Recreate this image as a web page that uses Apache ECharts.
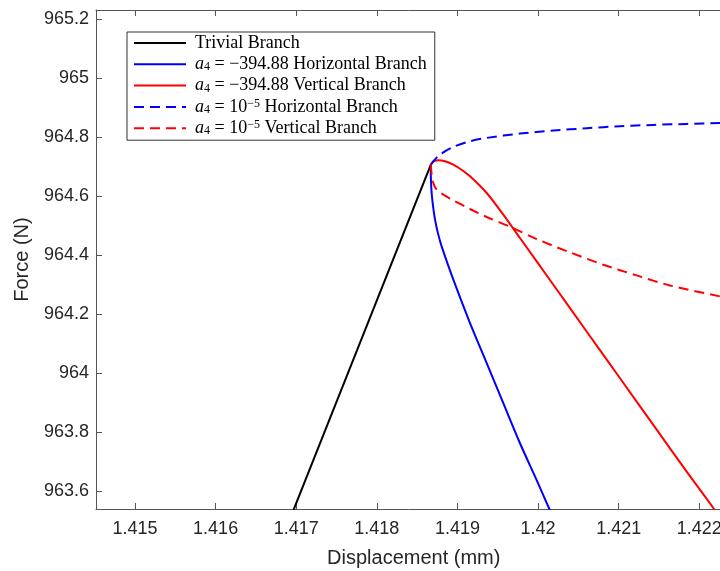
<!DOCTYPE html>
<html>
<head>
<meta charset="utf-8">
<script src="https://cdn.jsdelivr.net/npm/echarts@6/dist/echarts.min.js"></script>
<style>html,body{margin:0;padding:0;background:#fff;overflow:hidden}#c{width:720px;height:571px}</style>
</head>
<body>
<div id="c"></div>
<script>
// ---- data (displacement mm, force N) ----
const trivialBranch = [[1.41690, 963.49], [1.41867, 964.707]];
const hBranchA = [[1.41867, 964.707], [1.418668, 964.696], [1.418672, 964.650], [1.418680, 964.611], [1.418698, 964.565], [1.418722, 964.521], [1.418758, 964.475], [1.418804, 964.430], [1.418949, 964.317], [1.419156, 964.170], [1.419363, 964.034], [1.419569, 963.898], [1.419776, 963.762], [1.419983, 963.637], [1.420140, 963.539], [1.42020, 963.50]];
const vBranchA = [[1.41867, 964.707], [1.418692, 964.715], [1.418722, 964.7200], [1.418763, 964.7222], [1.418846, 964.7187], [1.418949, 964.7074], [1.419050, 964.690], [1.419156, 964.6678], [1.419363, 964.6112], [1.419569, 964.5376], [1.419776, 964.4583], [1.420190, 964.2998], [1.420603, 964.1412], [1.421017, 963.9827], [1.421430, 963.8242], [1.421844, 963.6657], [1.422183, 963.539], [1.42222, 963.52]];
const hBranchB = [[1.41867, 964.707], [1.418701, 964.7187], [1.418784, 964.7414], [1.418949, 964.7675], [1.419156, 964.7867], [1.419363, 964.7980], [1.419776, 964.8127], [1.420190, 964.8229], [1.420603, 964.8309], [1.421017, 964.8377], [1.421430, 964.8422], [1.421844, 964.8456], [1.422257, 964.8490], [1.42250, 964.851]];
const vBranchB = [[1.41867, 964.707], [1.418678, 964.680], [1.418693, 964.6508], [1.418742, 964.6225], [1.418846, 964.6021], [1.418949, 964.5863], [1.419156, 964.5569], [1.419363, 964.5297], [1.419660, 964.4957], [1.419983, 964.4549], [1.420396, 964.4097], [1.420810, 964.3677], [1.421223, 964.3315], [1.421637, 964.2975], [1.422257, 964.2602], [1.42250, 964.247]];
const seriesNames = ['Trivial Branch', 'a4 = -394.88 Horizontal Branch', 'a4 = -394.88 Vertical Branch', 'a4 = 1e-5 Horizontal Branch', 'a4 = 1e-5 Vertical Branch'];
const legendLabels = [
  'Trivial Branch',
  '{it|a}{sub|4} = −394.88 Horizontal Branch',
  '{it|a}{sub|4} = −394.88 Vertical Branch',
  '{it|a}{sub|4} = 10{sup|−5} Horizontal Branch',
  '{it|a}{sub|4} = 10{sup|−5} Vertical Branch'
];
const xTicks = [1.415, 1.416, 1.417, 1.418, 1.419, 1.420, 1.421, 1.422];
const xTickLabels = ['1.415', '1.416', '1.417', '1.418', '1.419', '1.42', '1.421', '1.422'];
const yTicks = [963.6, 963.8, 964.0, 964.2, 964.4, 964.6, 964.8, 965.0, 965.2];
const yTickLabels = ['963.6', '963.8', '964', '964.2', '964.4', '964.6', '964.8', '965', '965.2'];
const xRange = [1.414516, 1.4224];
const yRange = [963.539, 965.232];

function labelFor(ticks, labels) {
  return function (v) {
    for (let i = 0; i < ticks.length; i++) if (Math.abs(ticks[i] - v) < 1e-7) return labels[i];
    return '';
  };
}

const axisColor = '#555';
const tickFont = { color: '#262626', fontSize: 18, fontFamily: 'Liberation Sans, Arial, sans-serif' };

const chart = echarts.init(document.getElementById('c'), null, { renderer: 'canvas' });
const lineCommon = { type: 'line', symbol: 'none', showSymbol: false, animation: false, clip: true };
chart.setOption({
  animation: false,
  backgroundColor: '#fff',
  grid: { left: 96, top: 10, right: -11.5, bottom: 62, containLabel: false, outerBoundsMode: 'none' },
  xAxis: [{
    type: 'value', min: xRange[0], max: xRange[1], position: 'bottom',
    name: 'Displacement (mm)', nameLocation: 'middle', nameGap: 39,
    nameTextStyle: { color: '#262626', fontSize: 20, fontFamily: 'Liberation Sans, Arial, sans-serif' },
    axisLine: { show: true, onZero: false, lineStyle: { color: axisColor, width: 1 } },
    axisTick: { show: true, inside: true, length: 6, customValues: xTicks, lineStyle: { color: axisColor } },
    axisLabel: Object.assign({ customValues: xTicks, margin: 11, hideOverlap: false, formatter: labelFor(xTicks, xTickLabels) }, tickFont),
    splitLine: { show: false }
  }, {
    type: 'value', min: xRange[0], max: xRange[1], position: 'top',
    axisLine: { show: true, onZero: false, lineStyle: { color: axisColor, width: 1 } },
    axisTick: { show: true, inside: true, length: 6, customValues: xTicks, lineStyle: { color: axisColor } },
    axisLabel: { show: false },
    splitLine: { show: false }
  }],
  yAxis: [{
    type: 'value', min: yRange[0], max: yRange[1],
    name: 'Force (N)', nameLocation: 'middle', nameGap: 64,
    nameTextStyle: { color: '#262626', fontSize: 20, fontFamily: 'Liberation Sans, Arial, sans-serif' },
    axisLine: { show: true, onZero: false, lineStyle: { color: axisColor, width: 1 } },
    axisTick: { show: true, inside: true, length: 6, customValues: yTicks, lineStyle: { color: axisColor } },
    axisLabel: Object.assign({ customValues: yTicks, margin: 7, formatter: labelFor(yTicks, yTickLabels) }, tickFont),
    splitLine: { show: false }
  }],
  legend: {
    show: true, orient: 'vertical', left: 127, top: 32,
    padding: [2, 8, 3, 6], itemGap: 3.3, itemWidth: 52, itemHeight: 14,
    backgroundColor: '#fff', borderColor: '#333', borderWidth: 1,
    itemStyle: { opacity: 0, borderWidth: 0 },
    data: seriesNames,
    formatter: function (name) { return legendLabels[seriesNames.indexOf(name)]; },
    textStyle: {
      color: '#000', fontSize: 18, fontFamily: 'Liberation Serif, Times New Roman, serif', lineHeight: 18, padding: [0, 0, 0, 4],
      rich: {
        it: { fontStyle: 'italic', fontSize: 18, fontFamily: 'Liberation Serif, serif', lineHeight: 18 },
        sub: { fontSize: 12, fontFamily: 'Liberation Serif, serif', lineHeight: 8, verticalAlign: 'bottom' },
        sup: { fontSize: 12, fontFamily: 'Liberation Serif, serif', lineHeight: 10, verticalAlign: 'top' }
      }
    }
  },
  series: [
    Object.assign({ name: seriesNames[0], data: trivialBranch, lineStyle: { color: '#000', width: 2 }, itemStyle: { color: '#000' } }, lineCommon),
    Object.assign({ name: seriesNames[1], data: hBranchA, smooth: 0.3, lineStyle: { color: '#0000ff', width: 2 }, itemStyle: { color: '#0000ff' } }, lineCommon),
    Object.assign({ name: seriesNames[2], data: vBranchA, smooth: 0.3, lineStyle: { color: '#ff0000', width: 2 }, itemStyle: { color: '#ff0000' } }, lineCommon),
    Object.assign({ name: seriesNames[3], data: hBranchB, smooth: 0.3, lineStyle: { color: '#0000ff', width: 2, type: [10, 6] }, itemStyle: { color: '#0000ff' } }, lineCommon),
    Object.assign({ name: seriesNames[4], data: vBranchB, smooth: 0.3, lineStyle: { color: '#ff0000', width: 2, type: [10, 6] }, itemStyle: { color: '#ff0000' } }, lineCommon)
  ]
});
</script>
</body>
</html>
